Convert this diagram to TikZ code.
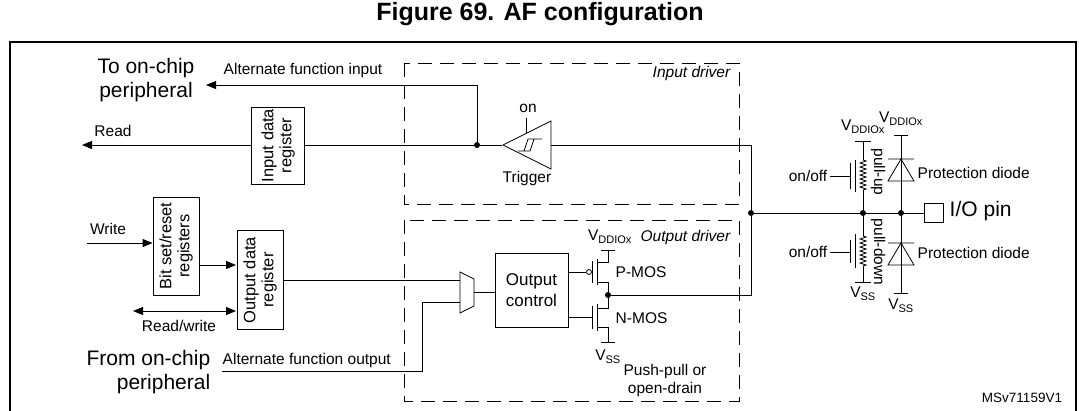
\documentclass[tikz,border=0pt]{standalone}
\usepackage{fontspec}
\setmainfont{Liberation Sans}
\usetikzlibrary{arrows.meta,positioning,shapes.geometric,decorations.pathmorphing}
\tikzset{
  sm/.style={font=\fontsize{15.5}{18}\selectfont},
  big/.style={font=\fontsize{21}{24}\selectfont},
  reg/.style={draw, line width=0.8pt, align=center, rotate=90, inner sep=1pt, font=\fontsize{16.5}{18}\selectfont},
  drv/.style={draw, dash pattern=on 14pt off 8pt, line width=0.8pt},
  dot/.style={circle, fill, inner sep=0pt, minimum size=6pt},
  res/.style={decorate, decoration={zigzag, segment length=4pt, amplitude=3pt}},
  arr/.style={-{Triangle[length=10pt,width=8pt]}}
}
\newcommand{\vsub}[1]{V\textsubscript{\fontsize{11}{12}\selectfont #1}}
\begin{document}
\begin{tikzpicture}[x=1pt, y=-1pt, line width=0.8pt]
\useasboundingbox (0,0) rectangle (1079,410);
% title and frame
\node[font=\fontsize{25}{28}\selectfont\bfseries] (title) at (540,14) {Figure 69. AF configuration};
\draw[line width=1.2pt] (10,42) rectangle (1076,412);
\node[font=\fontsize{13.5}{15}\selectfont] (ref) at (1022,398) {MSv71159V1};

% driver boxes
\draw[drv] (404,63) rectangle (739,204);
\draw[drv] (404,220) rectangle (739,401);
\node[anchor=east, font=\fontsize{15.5}{18}\selectfont\itshape] (indrv) at (734,73) {Input driver};
\node[anchor=east, font=\fontsize{15.5}{18}\selectfont\itshape] (outdrv) at (734,237) {Output driver};

% input path
\node[reg, minimum width=77pt, minimum height=53pt] (idr) at (278,145.5) {Input data\\register};
\node[dot] (tap) at (477,145) {};
\coordinate (readend) at (82,145);
\node[sm] (readlbl) at (113,131) {Read};
\draw (tap) -- (tap -| idr.south);
\draw[arr] (tap -| idr.north) -- (readend);
\node[big, align=center] (toper) at (146,80) {To on-chip\\peripheral};
\node[sm] (afin) at (303,70) {Alternate function input};
\coordinate (afinend) at (206,85);
\draw[arr] (tap) -- (477,85) -- (afinend);

% schmitt trigger
\node[draw, isosceles triangle, shape border rotate=180, isosceles triangle apex angle=53,
      minimum height=48pt, inner sep=0pt, anchor=apex] (trig) at (502,145) {};
\draw (518,151) -- (530,151) -- (534,139) -- (542,139) (524,151) -- (528,139) -- (534,139);
\node[sm] (on) at (528,108) {on};
\draw (526,118) -- (526,133);
\node[sm] (triglbl) at (527,178) {Trigger};
\draw (tap) -- (trig.apex);

% output path
\node[reg, minimum width=98pt, minimum height=46pt] (bsr) at (176,246) {Bit set/reset\\registers};
\node[reg, minimum width=99pt, minimum height=46pt] (odr) at (260,280) {Output data\\register};
\coordinate (wrstart) at (87,243);
\node[sm] (wrlbl) at (108,229) {Write};
\draw[arr] (wrstart) -- (wrstart -| bsr.north);
\draw[arr] (199,265) -- (236,265);
\coordinate (rwend) at (133,311);
\draw[{Triangle[length=10pt,width=8pt]}-{Triangle[length=10pt,width=8pt]}] (rwend) -- (236,311);
\node[sm] (rwlbl) at (179,326) {Read/write};

% mux and output control
\draw (460,272) -- (474,279) -- (474,306) -- (460,313) -- cycle;
\coordinate (muxa) at (460,280);
\coordinate (muxb) at (460,302);
\draw (odr.south |- muxa) -- (muxa);
\node[draw, minimum width=73pt, minimum height=74pt, align=center, font=\fontsize{17}{21}\selectfont] (oc) at (531.5,290) {Output\\control};
\draw (474,292) -- (oc.west |- 0,292);
\node[big, align=right, anchor=east] (fromper) at (214,372) {From on-chip\\peripheral};
\node[sm, anchor=west] (afout) at (219,360) {Alternate function output};
\draw (222,371) -- (422,371) -- (422,302) -- (muxb);

% P-MOS / N-MOS
\coordinate (drain) at (608,295);
\draw (oc.east |- 0,272) -- (586,272);
\draw (589,272) circle (2.5pt);
\draw (592,261) -- (592,283) (597,259) -- (597,285);
\draw (597,262) -- (608,262) -- (608,250) (601,250) -- (615,250);
\draw (597,282) -- (608,282) -- (drain);
\draw (oc.east |- 0,317) -- (592,317);
\draw (592,306) -- (592,329) (597,304) -- (597,331);
\draw (597,308) -- (608,308) -- (drain);
\draw (597,327) -- (608,327) -- (608,342) (601,342) -- (615,342);
\node[dot] (dd) at (drain) {};
\node[sm] (vddp) at (610,237) {\vsub{DDIOx}};
\node[sm] (vssn) at (608,357) {\vsub{SS}};
\node[sm, anchor=west] (pmos) at (612,272) {P-MOS};
\node[sm, anchor=west] (nmos) at (612,318) {N-MOS};
\node[sm, align=center] (pp) at (665,380) {Push-pull or\\open-drain};

% pin node
\node[dot] (j1) at (751,213) {};
\node[dot] (j2) at (863,213) {};
\node[dot] (j3) at (901,213) {};
\node[draw, minimum size=19pt, inner sep=0pt] (pin) at (934,213) {};
\node[big, anchor=west] (pinlbl) at (946,211) {I/O pin};
\draw (trig.east) -- (751,145) -- (j1) -- (751,295) -- (dd);
\draw (j1) -- (pin.west);

% pull-up / pull-down
\draw (863,141) -- (863,160);
\draw[res] (863,160) -- (863,190);
\draw (863,190) -- (j2);
\draw (855,141) -- (871,141);
\draw (855,160) -- (855,192) (850,163) -- (850,189) (830,176) -- (850,176);
\node[sm] (vddpu) at (863,127) {\vsub{DDIOx}};
\node[sm, anchor=east] (onoff1) at (831,176) {on/off};
\node[sm, rotate=-90] (pullup) at (878,172) {pull-up};
\draw (j2) -- (863,236);
\draw[res] (863,236) -- (863,266);
\draw (863,266) -- (863,282);
\draw (855,282) -- (871,282);
\draw (855,234) -- (855,268) (850,240) -- (850,263) (830,252) -- (850,252);
\node[sm] (vsspd) at (863,294) {\vsub{SS}};
\node[sm, anchor=east] (onoff2) at (831,252) {on/off};
\node[sm, rotate=-90] (pulldn) at (878,252) {pull-down};

% protection diodes
\draw (901,135) -- (j3) -- (901,293);
\draw (894,135) -- (908,135) (894,293) -- (908,293);
\draw (888,159) -- (914,159) (888,181) -- (914,181) -- (901,159) -- cycle;
\draw (888,243) -- (914,243) (888,265) -- (914,265) -- (901,243) -- cycle;
\node[sm] (vdddi) at (901,119) {\vsub{DDIOx}};
\node[sm] (vssdi) at (901,306) {\vsub{SS}};
\node[sm, anchor=west] (pd1) at (914,173) {Protection diode};
\node[sm, anchor=west] (pd2) at (914,253) {Protection diode};
\end{tikzpicture}
\end{document}
